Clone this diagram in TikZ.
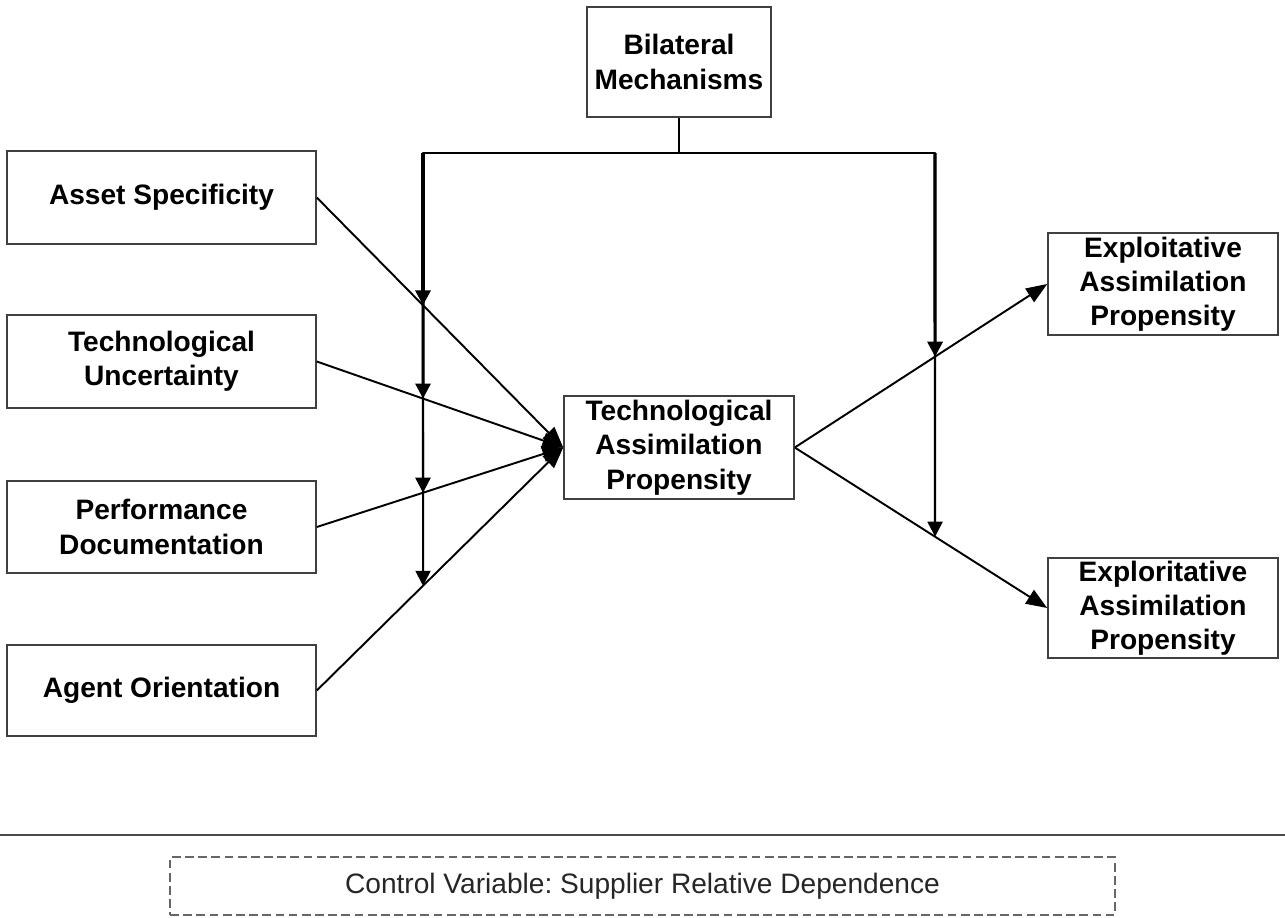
\documentclass[tikz,border=0pt]{standalone}
\usepackage{fontspec}
\setmainfont{Liberation Sans}
\usetikzlibrary{arrows.meta}
\frenchspacing
\tikzset{
  box/.style={draw=black!75, line width=0.9pt, align=center, inner sep=0pt,
    font=\bfseries\fontsize{16}{19.5}\selectfont},
  conn/.style={draw=black, line width=1.1pt, -{Triangle[length=0.42cm,width=0.32cm]}},
  modline/.style={draw=black, line width=1.3pt},
  modarrow/.style={draw=black, -{Triangle[length=0.3cm,width=0.3cm]}},
}
\begin{document}
\begin{tikzpicture}[x=0.02cm, y=-0.02cm]
\useasboundingbox (0,0) rectangle (1285,917);
% nodes
\node[box, minimum width=3.68cm, minimum height=2.2cm] (bm) at (679,62) {Bilateral\\Mechanisms};
\node[box, minimum width=6.18cm, minimum height=1.86cm] (as) at (161.5,197.5) {Asset Specificity};
\node[box, minimum width=6.18cm, minimum height=1.86cm] (tu) at (161.5,361.5) {Technological\\Uncertainty};
\node[box, minimum width=6.18cm, minimum height=1.84cm] (pd) at (161.5,527) {Performance\\Documentation};
\node[box, minimum width=6.18cm, minimum height=1.82cm] (ao) at (161.5,690.5) {Agent Orientation};
\node[box, minimum width=4.6cm, minimum height=2.06cm] (tap) at (679,447.5) {Technological\\Assimilation\\Propensity};
\node[box, minimum width=4.6cm, minimum height=2.04cm] (eap) at (1163,284) {Exploitative\\Assimilation\\Propensity};
\node[box, minimum width=4.6cm, minimum height=2.0cm] (erp) at (1163,608) {Exploritative\\Assimilation\\Propensity};
% separator and control variable
\coordinate (sl) at (0,835);
\coordinate (sr) at (1285,835);
\draw[black!70, line width=1.5pt] (sl) -- (sr);
\node[draw=black!60, dash pattern=on 5pt off 2.5pt, line width=0.8pt, minimum width=18.9cm, minimum height=1.16cm, inner sep=0pt,
  font=\fontsize{16}{19}\selectfont, text=black!85] (ctrl) at (642.5,886) {Control Variable: Supplier Relative Dependence};
% main connectors
\draw[conn] (as.east) -- (tap.west);
\draw[conn] (tu.east) -- (tap.west);
\draw[conn] (pd.east) -- (tap.west);
\draw[conn] (ao.east) -- (tap.west);
\draw[conn] (tap.east) -- (eap.west);
\draw[conn] (tap.east) -- (erp.west);
% moderator lines
\coordinate (jl) at (423,153);
\coordinate (jr) at (935,153);
\coordinate (jlb) at (423,800);
\coordinate (jrb) at (935,800);
\draw[modline] (bm.south) -- (bm.south |- jl);
\draw[modline, line cap=round] (jl) -- (jr);
\coordinate (i4) at (intersection of jl--jlb and ao.east--tap.west);
\coordinate (i3) at (intersection of jl--jlb and pd.east--tap.west);
\coordinate (i2) at (intersection of jl--jlb and tu.east--tap.west);
\coordinate (i1) at (intersection of jl--jlb and as.east--tap.west);
\coordinate (r1) at (intersection of jr--jrb and tap.east--eap.west);
\coordinate (r2) at (intersection of jr--jrb and tap.east--erp.west);
\draw[modarrow, line width=1.1pt] (jl) -- (i4);
\draw[modarrow, line width=1.4pt] (jl) -- (i3);
\draw[modarrow, line width=1.7pt] (jl) -- (i2);
\draw[modarrow, line width=2pt] (jl) -- (i1);
\draw[modarrow, line width=1.3pt] (jr) -- (r2);
\draw[modarrow, line width=1.8pt] (jr) -- (r1);
\end{tikzpicture}
\end{document}
